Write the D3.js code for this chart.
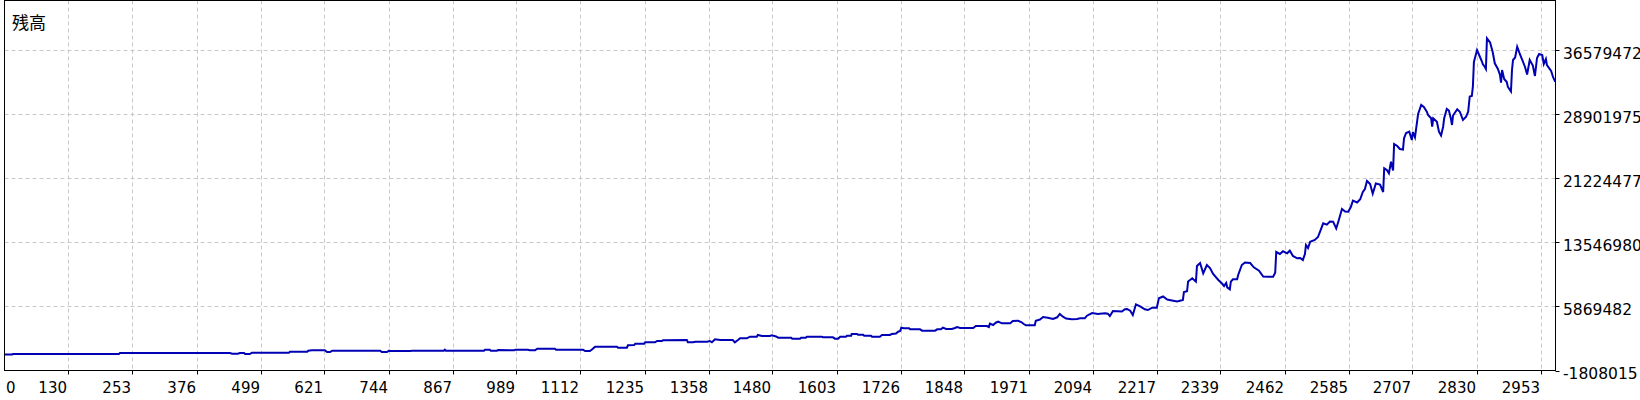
<!DOCTYPE html>
<html><head><meta charset="utf-8">
<script src="https://cdn.jsdelivr.net/npm/d3@7"></script>
<style>html,body{margin:0;padding:0;background:#fff}svg{display:block}</style>
</head><body>
<svg id="chart" width="1640" height="400"></svg>
<script>
const title = "残高";
const xTicks = [0,130,253,376,499,621,744,867,989,1112,1235,1358,1480,1603,1726,1848,1971,2094,2217,2339,2462,2585,2707,2830,2953];
const yTicks = [-1808015,5869482,13546980,21224477,28901975,36579472];
const xDomain = [0, 2982];
const yDomain = [-1808015, 42549800];

// [trade number, balance]
const balancePoints = [
[7,110000],[22,110000],[24,170000],[227,170000],[229,290000],[440,290000],[444,206000],[455,206000],[459,290000],[467,290000],[469,170000],[478,170000],[482,326000],[553,326000],[555,446000],[588,446000],[590,566000],[597,614000],[622,614000],[626,410000],[632,410000],[636,566000],[728,566000],[731,410000],[741,410000],[745,566000],
[747,530000],[785,530000],[789,566000],[850,566000],[852,686000],[854,566000],[927,566000],[929,686000],[938,686000],[940,566000],[952,566000],[954,650000],[985,614000],[987,686000],[1011,686000],[1015,614000],[1025,614000],[1029,805000],[1063,805000],[1065,686000],[1117,686000],[1121,530000],[1130,530000],[1134,710000],[1140,1045000],[1182,1045000],[1184,925000],[1201,925000],[1203,1213000],[1215,1249000],[1217,1405000],[1234,1405000],[1236,1573000],[1255,1573000],[1259,1729000],[1268,1729000],[1270,1813000],[1316,1848000],[1318,1573000],[1328,1573000],[1332,1645000],[1355,1645000],[1360,1729000],[1364,1573000],[1370,1932000],[1380,1848000],[1404,1848000],[1408,1573000],[1414,1848000],[1418,2052000],[1431,2052000],[1437,2244000],[1450,2244000],[1452,2448000],[1460,2328000],[1475,2328000],[1479,2412000],[1487,2268000],[1491,2124000],
[1495,2124000],[1516,2124000],[1518,2004000],[1533,2004000],[1535,2124000],[1544,2124000],[1546,2244000],[1575,2244000],[1577,2172000],[1596,2172000],[1600,2004000],[1606,2004000],[1610,2244000],[1621,2244000],[1623,2364000],[1631,2364000],[1632,2568000],[1642,2568000],[1644,2484000],[1654,2484000],[1656,2364000],[1669,2364000],[1671,2244000],[1686,2244000],[1690,2448000],[1705,2448000],[1709,2568000],[1717,2628000],[1721,2844000],[1725,2927000],[1727,3323000],[1732,3251000],[1742,3251000],[1744,3131000],[1763,3131000],[1767,2963000],[1792,2963000],[1796,3131000],[1803,3131000],[1807,3323000],[1813,3167000],[1824,3167000],[1830,3287000],[1834,3407000],[1840,3287000],[1865,3287000],[1870,3527000],[1891,3527000],[1895,3407000],[1897,3803000],[1903,3647000],[1909,3947000],[1913,4042000],[1920,3851000],[1936,3851000],[1941,4126000],[1951,4162000],[1957,4006000],[1962,3767000],[1966,3611000],[1983,3611000],[1985,4162000],[1993,4306000],[1999,4606000],[2008,4522000],[2018,4366000],[2026,4570000],[2031,4966000],[2037,4642000],[2043,4426000],[2054,4330000],[2064,4366000],[2070,4450000],[2079,4450000],[2083,4762000],[2093,5085000],[2104,4966000],[2108,5002000],[2118,5049000],[2123,5002000],[2127,4726000],[2133,5325000],[2150,5265000],[2156,5529000],[2160,5565000],[2166,5361000],[2171,4846000],[2177,6128000],[2185,5889000],[2194,5529000],[2200,5445000],[2208,5721000],[2217,5721000],[2221,6848000],[2229,7064000],[2237,6704000],[2246,6584000],[2256,6464000],[2265,6608000],
[2267,6644000],[2269,7603000],[2275,7687000],[2277,8862000],[2285,9245000],[2292,8838000],[2294,10720000],[2300,11080000],[2306,9845000],[2313,10840000],[2319,10480000],[2325,9761000],[2335,9042000],[2342,8622000],[2346,8322000],[2350,8682000],[2352,8166000],[2357,7927000],[2359,8838000],[2363,9126000],[2371,9126000],[2373,9641000],[2380,10840000],[2386,11140000],[2396,11080000],[2403,10564000],[2413,10157000],[2421,9461000],[2430,9437000],[2440,9437000],[2444,9917000],[2446,12398000],[2453,12159000],[2459,12482000],[2467,12243000],[2472,12554000],[2478,11919000],[2486,11643000],[2492,11679000],[2497,11439000],[2501,12159000],[2503,13238000],[2507,12878000],[2511,13633000],[2520,13837000],[2526,14197000],[2530,14832000],[2536,15839000],[2543,15671000],[2549,16055000],[2555,16031000],[2561,15216000],[2566,16235000],[2572,17554000],[2578,17254000],[2584,17230000],[2589,17793000],[2593,18549000],[2601,18333000],[2607,18716000],[2612,19592000],[2616,19951000],[2620,20910000],[2626,20551000],[2631,19388000],[2637,20611000],[2645,20491000],[2651,19592000],[2653,22433000],[2658,22229000],[2662,21833000],[2666,23224000],[2670,22169000],[2672,25346000],[2678,25106000],[2683,24747000],[2689,24687000],[2691,26030000],[2695,26665000],[2701,26821000],[2706,25826000],[2708,26785000],[2712,26149000],[2718,28943000],[2724,30022000],[2729,29782000],[2735,29183000],[2737,28823000],[2743,28427000],[2745,27420000],[2747,28427000],[2754,28020000],[2758,26821000],[2762,26365000],[2766,27420000],[2768,28427000],[2773,29542000],
[2777,29362000],[2781,28343000],[2783,27624000],[2785,28763000],[2793,29506000],[2798,29218000],[2804,28223000],[2810,28619000],[2814,29218000],[2817,31041000],[2821,31101000],[2823,32216000],[2825,35177000],[2827,35656000],[2831,36615000],[2835,36016000],[2840,35297000],[2842,34937000],[2846,34577000],[2848,34338000],[2850,38018000],[2856,37515000],[2861,36376000],[2865,35021000],[2871,34338000],[2875,33618000],[2877,32695000],[2879,34218000],[2883,33139000],[2888,32779000],[2890,32216000],[2894,31820000],[2896,31640000],[2898,34218000],[2900,35417000],[2904,35716000],[2908,37011000],[2913,36136000],[2919,35213000],[2923,34577000],[2927,33678000],[2932,35417000],[2938,34757000],[2942,33498000],[2946,35656000],[2950,36136000],[2956,36016000],[2959,34937000],[2963,35536000],[2965,34817000],[2973,34098000],[2977,33319000],[2981,32815000]
];

const plot = {left: 4.5, top: 0.5, right: 1555.5, bottom: 370.5};
const svg = d3.select("#chart");
const x = d3.scaleLinear().domain(xDomain).range([0.5, 1555.8]);
const y = d3.scaleLinear().domain(yDomain).range([plot.bottom, plot.top]);

const gridColor = "#c8c8c8";
const fontNum = "'DejaVu Sans', Verdana, sans-serif";

// clip
svg.append("defs").append("clipPath").attr("id","clip")
  .append("rect").attr("x",plot.left).attr("y",plot.top)
  .attr("width",plot.right-plot.left).attr("height",plot.bottom-plot.top);

// vertical grid
const g = svg.append("g");
xTicks.filter(v => v > 0).forEach(v => {
  const px = Math.round(x(v)) + 0.5;
  g.append("line").attr("x1",px).attr("x2",px).attr("y1",plot.top).attr("y2",plot.bottom)
    .attr("stroke",gridColor).attr("stroke-width",1).attr("stroke-dasharray","4,3");
  g.append("line").attr("x1",px).attr("x2",px).attr("y1",plot.bottom).attr("y2",plot.bottom+4)
    .attr("stroke","#000").attr("stroke-width",1);
});
// horizontal grid
yTicks.forEach((v,i) => {
  const py = Math.round(y(v)) + 0.5;
  if (i > 0) {
    g.append("line").attr("x1",plot.left).attr("x2",plot.right).attr("y1",py).attr("y2",py)
      .attr("stroke",gridColor).attr("stroke-width",1).attr("stroke-dasharray","4,3");
  }
  g.append("line").attr("x1",plot.right).attr("x2",plot.right+4).attr("y1",py).attr("y2",py)
    .attr("stroke","#000").attr("stroke-width",1);
});

// line
const line = d3.line().x(d => x(d[0])).y(d => y(d[1]));
svg.append("path").datum(balancePoints)
  .attr("clip-path","url(#clip)")
  .attr("d", line).attr("fill","none")
  .attr("stroke","#0000b4").attr("stroke-width",2).attr("stroke-linejoin","miter");

// frame
svg.append("rect").attr("x",plot.left).attr("y",plot.top)
  .attr("width",plot.right-plot.left).attr("height",plot.bottom-plot.top)
  .attr("fill","none").attr("stroke","#000").attr("stroke-width",1);

// x labels
xTicks.forEach(v => {
  const t = svg.append("text").text(String(v))
    .attr("y", 392.5).attr("font-family",fontNum).attr("font-size","15px").attr("fill","#000");
  if (v === 0) t.attr("x", 6).attr("text-anchor","start");
  else t.attr("x", Math.round(x(v)) - 1).attr("text-anchor","end");
});
// y labels
yTicks.forEach(v => {
  svg.append("text").text(String(v))
    .attr("x", 1563).attr("y", y(v) + 8.3)
    .attr("font-family",fontNum).attr("font-size","15.5px").attr("fill","#000");
});
// title
svg.append("text").text(title).attr("x",12).attr("y",28.5)
  .attr("font-family","'Noto Sans CJK JP', sans-serif").attr("font-size","17px").attr("fill","#000");
</script>
</body></html>
